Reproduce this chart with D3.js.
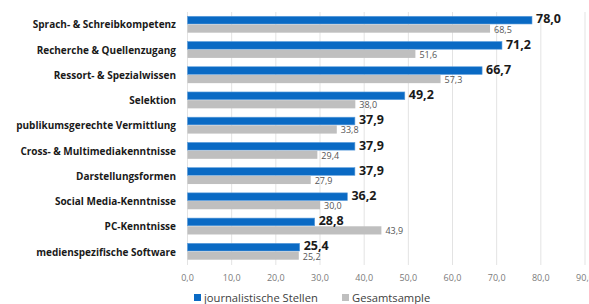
<!DOCTYPE html>
<html>
<head>
<meta charset="utf-8">
<script src="https://cdn.jsdelivr.net/npm/d3@7"></script>
<style>
  body { margin: 0; background: #fff; }
  svg text { font-family: "Open Sans", sans-serif; }
</style>
</head>
<body>
<svg id="chart" width="589" height="304"></svg>
<script>
var categories = [
  "Sprach- & Schreibkompetenz",
  "Recherche & Quellenzugang",
  "Ressort- & Spezialwissen",
  "Selektion",
  "publikumsgerechte Vermittlung",
  "Cross- & Multimediakenntnisse",
  "Darstellungsformen",
  "Social Media-Kenntnisse",
  "PC-Kenntnisse",
  "medienspezifische Software"
];
var journalistisch = [78.0, 71.2, 66.7, 49.2, 37.9, 37.9, 37.9, 36.2, 28.8, 25.4];
var gesamt = [68.5, 51.6, 57.3, 38.0, 33.8, 29.4, 27.9, 30.0, 43.9, 25.2];
var ticks = [0, 10, 20, 30, 40, 50, 60, 70, 80, 90];
var seriesNames = ["journalistische Stellen", "Gesamtsample"];

var width = 589, height = 304;
var svg = d3.select("#chart");
var fmt = function(v) { return d3.format(".1f")(v).replace(".", ","); };

var x = d3.scaleLinear().domain([0, 90]).range([187.5, 585]);
var y = d3.scaleBand().domain(categories).range([12, 264]).paddingInner(0.35).paddingOuter(0.17);

// gridlines
svg.append("g")
  .selectAll("line")
  .data(ticks)
  .enter()
  .append("line")
  .attr("x1", d => x(d)).attr("x2", d => x(d))
  .attr("y1", 12).attr("y2", 265)
  .attr("stroke", "#e3e3e3")
  .attr("stroke-width", 1);

// tick labels (last one runs off the edge like the original)
svg.append("g")
  .selectAll("text")
  .data(ticks)
  .enter()
  .append("text")
  .attr("x", d => x(d))
  .attr("y", 281)
  .attr("text-anchor", "middle")
  .attr("font-size", 9)
  .attr("fill", "#7a7a7a")
  .text(d => fmt(d));

var bh = y.bandwidth() / 2;

var rows = svg.append("g")
  .selectAll("g")
  .data(categories)
  .enter()
  .append("g")
  .attr("transform", d => "translate(0," + y(d) + ")");

rows.append("rect")
  .attr("x", x(0))
  .attr("y", 0)
  .attr("width", (d, i) => x(journalistisch[i]) - x(0))
  .attr("height", bh - 0.5)
  .attr("fill", "#0a6ac4")
  .attr("stroke", "#5f9fdc")
  .attr("stroke-width", 0.6);

rows.append("rect")
  .attr("x", x(0))
  .attr("y", bh)
  .attr("width", (d, i) => x(gesamt[i]) - x(0))
  .attr("height", bh)
  .attr("fill", "#bfbfbf");

rows.append("text")
  .attr("x", (d, i) => x(journalistisch[i]) + 4)
  .attr("y", bh / 2 + 3)
  .attr("font-size", 12.5)
  .attr("font-weight", "bold")
  .attr("fill", "#1a1a1a")
  .text((d, i) => fmt(journalistisch[i]));

rows.append("text")
  .attr("x", (d, i) => x(gesamt[i]) + 4)
  .attr("y", bh + bh / 2 + 4)
  .attr("font-size", 9)
  .attr("fill", "#555")
  .text((d, i) => fmt(gesamt[i]));

rows.append("text")
  .attr("x", 176)
  .attr("y", bh + 4)
  .attr("text-anchor", "end")
  .attr("font-size", 10)
  .attr("font-weight", "bold")
  .attr("fill", "#1a1a1a")
  .text(d => d);

// legend
var legendX = [194, 342];
var legendColors = ["#0a6ac4", "#bfbfbf"];
var legend = svg.append("g")
  .selectAll("g")
  .data(seriesNames)
  .enter()
  .append("g")
  .attr("transform", (d, i) => "translate(" + legendX[i] + ",293)");

legend.append("rect")
  .attr("width", 7).attr("height", 7).attr("y", 1)
  .attr("fill", (d, i) => legendColors[i]);

legend.append("text")
  .attr("x", 10)
  .attr("y", 9)
  .attr("font-size", 11.2)
  .attr("fill", "#404040")
  .text(d => d);
</script>
</body>
</html>
